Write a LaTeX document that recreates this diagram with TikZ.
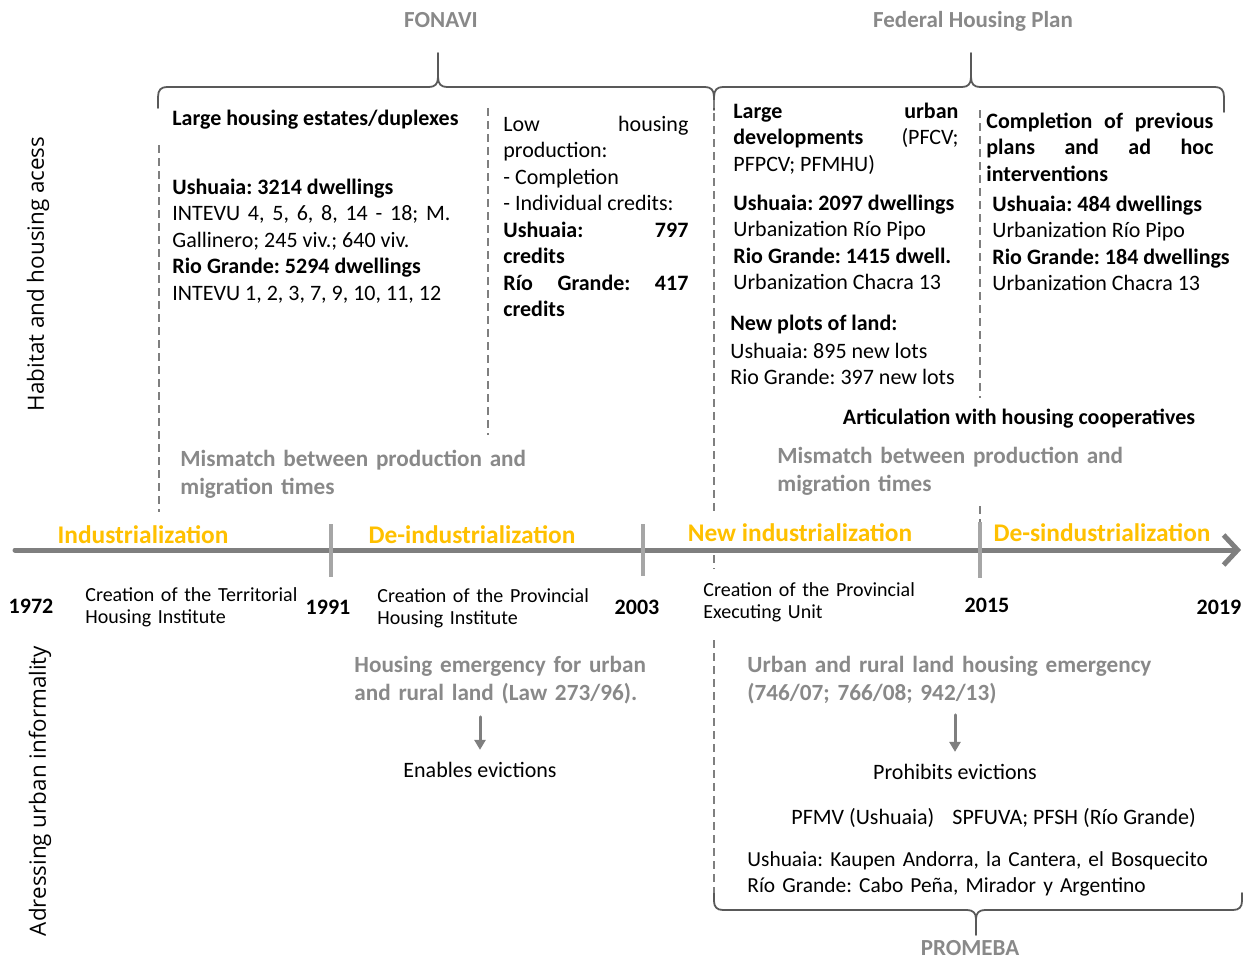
\documentclass[tikz,border=0pt]{standalone}
\usepackage{fontspec}
\setmainfont{Carlito}
\newfontfamily\sidefont{Open Sans}
\usetikzlibrary{arrows.meta}
\definecolor{textgrey}{RGB}{137,137,137}
\definecolor{bracegrey}{RGB}{89,89,89}
\definecolor{axisgrey}{RGB}{127,127,127}
\definecolor{tickgrey}{RGB}{166,166,166}
\definecolor{periodorange}{RGB}{255,192,0}

\begin{document}
\frenchspacing
\hyphenpenalty=10000 \exhyphenpenalty=10000
\begin{tikzpicture}[line cap=round,line join=round,x=0.5pt,y=-0.5pt,
	body/.style={inner sep=0pt,font=\fontsize{11}{13.25}\selectfont},
	para/.style={body,anchor=base west,text width=#1,align=justify},
	greynote/.style={inner sep=0pt,anchor=base west,text width=#1,align=left,text=textgrey,font=\bfseries\fontsize{11.6}{14}\selectfont},
	heading/.style={inner sep=0pt,anchor=base,text=textgrey,font=\bfseries\fontsize{11.5}{14}\selectfont},
	period/.style={inner sep=0pt,anchor=base,text=periodorange,font=\bfseries\fontsize{12.7}{15}\selectfont},
	yearlabel/.style={inner sep=0pt,anchor=base,font=\bfseries\fontsize{11}{13}\selectfont},
	creation/.style={inner sep=0pt,anchor=base west,text width=#1,align=left,font=\fontsize{10}{11}\selectfont},
	sidelabel/.style={inner sep=0pt,rotate=90,font=\sidefont\fontsize{11.2}{13}\selectfont},
	divider/.style={axisgrey,line width=0.6pt,dash pattern=on 4pt off 2.5pt,line cap=butt},
	curly/.style={bracegrey,line width=0.9pt},
	yeartick/.style={tickgrey,line width=2pt,line cap=butt},
	pil/.style={axisgrey,line width=1.5pt,-{Triangle[length=5pt,width=5.5pt]}}]
	\useasboundingbox (0,0) rectangle (1247,958);

	% programmes
	\node[heading] (fonavi) at (441,27) {FONAVI};
	\node[heading] (federal) at (973,27) {Federal Housing Plan};
	\node[heading] (promeba) at (970,955) {PROMEBA};

	\draw[curly] (158,108) -- (158,97) .. controls (158,90) and (161,87) .. (167,87) -- (429,87) .. controls (435,87) and (438,84) .. (438,77) -- (438,53) -- (438,77) .. controls (438,84) and (441,87) .. (447,87) -- (705,87) .. controls (711,87) and (714,90) .. (714,97) -- (714,106);
	\draw[curly] (714,110) -- (714,97) .. controls (714,90) and (717,87) .. (723,87) -- (962,87) .. controls (968,87) and (971,84) .. (971,77) -- (971,53) -- (971,77) .. controls (971,84) and (974,87) .. (980,87) -- (1215,87) .. controls (1221,87) and (1224,90) .. (1224,97) -- (1224,112);
	\draw[curly] (714,893) -- (714,901) .. controls (714,907) and (717,910) .. (723,910) -- (967,910) .. controls (973,910) and (976,913) .. (976,919) -- (976,935) -- (976,919) .. controls (976,913) and (979,910) .. (985,910) -- (1233,910) .. controls (1239,910) and (1242,907) .. (1242,901) -- (1242,893);

	% dashed separators
	\draw[divider] (159,145) -- (159,512);
	\draw[divider] (488,108) -- (488,435);
	\draw[divider] (714,100) -- (714,513);
	\draw[divider] (714,555) -- (714,569);
	\draw[divider] (714,640) -- (714,893);
	\draw[divider] (980,110) -- (980,398);
	\draw[divider] (980,506) -- (980,522);

	% side labels
	\node[sidelabel] (habitat) at (38,274) {Habitat and housing acess};
	\node[sidelabel] (informal) at (40,791) {Adressing urban informality};

	% 1972-1991
	\node[body,anchor=base west] (estates) at (172,125) {\textbf{Large housing estates/duplexes}};
	\node[para=139pt] (ush1) at (172,194) {\textbf{Ushuaia: 3214 dwellings}\par INTEVU 4, 5, 6, 8, 14 - 18; M.\linebreak Gallinero; 245 viv.; 640 viv.\par \textbf{Rio Grande: 5294 dwellings}\par INTEVU 1, 2, 3, 7, 9, 10, 11, 12};
	% 1991-2003
	\node[para=92.5pt] (lowprod) at (503,131) {Low housing\linebreak production:\par - Completion\par - Individual credits:\par \textbf{Ushuaia: 797\linebreak credits}\par \textbf{Río Grande: 417\linebreak credits}};
	% 2003-2015
	\node[para=112.5pt] (largeurban) at (733,118) {\textbf{Large urban\linebreak developments} (PFCV;\linebreak PFPCV; PFMHU)};
	\node[para=115pt] (ush3) at (733,210) {\textbf{Ushuaia: 2097 dwellings}\par Urbanization Río Pipo\par \textbf{Rio Grande: 1415 dwell.}\par Urbanization Chacra 13};
	\node[para=115pt] (plots) at (730,330) {\textbf{New plots of land:}};
	\node[para=115pt] (lots) at (730,358) {Ushuaia: 895 new lots\par Rio Grande: 397 new lots};
	% 2015-2019
	\node[para=113.5pt] (completion) at (986,128) {\textbf{Completion of previous\linebreak plans and ad hoc\linebreak interventions}};
	\node[para=120pt] (ush4) at (992,211) {\textbf{Ushuaia: 484 dwellings}\par Urbanization Río Pipo\par \textbf{Rio Grande: 184 dwellings}\par Urbanization Chacra 13};
	\node[body,anchor=base,font=\bfseries\fontsize{11}{13}\selectfont] (coop) at (1019,424) {Articulation with housing cooperatives};

	\node[greynote=200pt] (mismatch1) at (180,466) {Mismatch between production and\\migration times};
	\node[greynote=200pt] (mismatch2) at (777,463) {Mismatch between production and\\migration times};

	% time line
	\coordinate (tstart) at (15,550);
	\coordinate (tend) at (1241,550);
	\draw[axisgrey,line width=2.5pt,-{Straight Barb[length=7pt,width=15pt]}] (tstart) -- (tend);
	\draw[yeartick] (331,524) -- (331,577);
	\draw[yeartick] (643,524) -- (643,576);
	\draw[yeartick] (980,522) -- (980,578);

	\node[period] (ind) at (143,543) {Industrialization};
	\node[period] (deind) at (472,543) {De-industrialization};
	\node[period] (newind) at (800,541) {New industrialization};
	\node[period] (desind) at (1102,541) {De-sindustrialization};

	\node[yearlabel] (y1972) at (31,613) {1972};
	\node[yearlabel] (y1991) at (328,614) {1991};
	\node[yearlabel] (y2003) at (637,614) {2003};
	\node[yearlabel] (y2015) at (987,612) {2015};
	\node[yearlabel] (y2019) at (1219,614) {2019};

	\node[creation=120pt] (ivt) at (85,601) {Creation of the Territorial\\Housing Institute};
	\node[creation=120pt] (ipv) at (377,602) {Creation of the Provincial\\Housing Institute};
	\node[creation=120pt] (upe) at (703,596) {Creation of the Provincial\\Executing Unit};

	% informality
	\node[greynote=170pt] (emerg1) at (354,672) {Housing emergency for urban\\and rural land (Law 273/96).};
	\node[body] (evict1) at (480,770) {Enables evictions};
	\draw[pil,shorten <=6.5pt,shorten >=6pt] (emerg1.south -| evict1.north) -- (evict1.north);

	\node[greynote=230pt] (emerg2) at (747,672) {Urban and rural land housing emergency\\(746/07; 766/08; 942/13)};
	\node[body] (evict2) at (955,772) {Prohibits evictions};
	\draw[pil,shorten <=5.5pt,shorten >=6pt] (emerg2.south -| evict2.north) -- (evict2.north);

	\node[body,anchor=base west] (pfmv) at (791,824) {PFMV (Ushuaia)};
	\node[body,anchor=base west] (spfuva) at (952,824) {SPFUVA; PFSH (Río Grande)};
	\node[body,anchor=base west,text width=260pt,align=left,font=\fontsize{10.7}{13}\selectfont] (barrios) at (747,866) {Ushuaia: Kaupen Andorra, la Cantera, el Bosquecito\\Río Grande: Cabo Peña, Mirador y Argentino};
\end{tikzpicture}
\end{document}
